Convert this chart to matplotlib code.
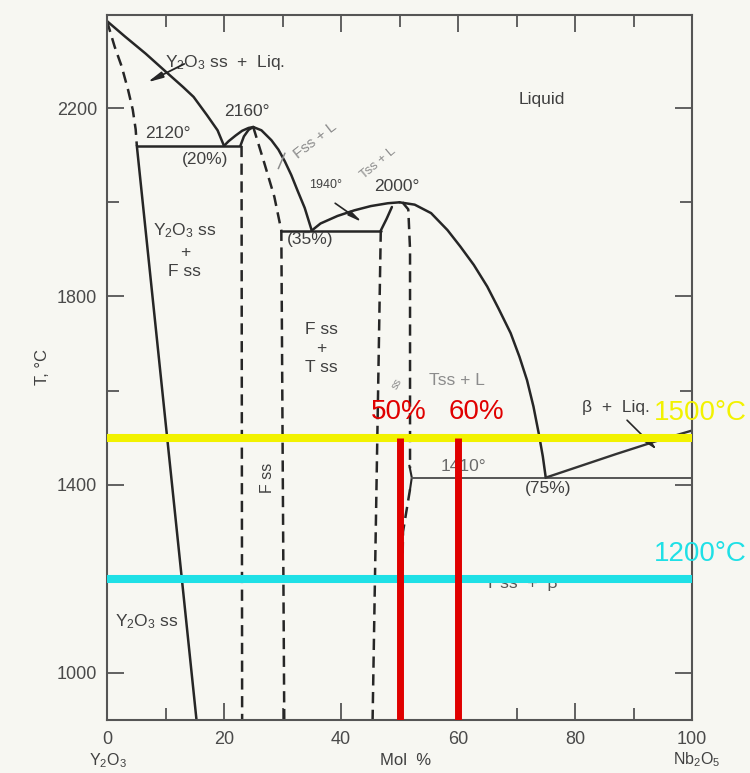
import matplotlib
matplotlib.use('Agg')
import matplotlib.pyplot as plt
from matplotlib.ticker import FixedLocator, FixedFormatter

plt.rcParams['font.family'] = ['Liberation Sans', 'DejaVu Sans']
plt.rcParams['mathtext.default'] = 'regular'

# ---------------- data (mol % Nb2O5, temperature in °C) ----------------
# Y2O3-rich liquidus
liq_y_x = [0, 3.1, 6.6, 10.1, 13.0, 14.8, 17.1, 18.9, 20]
liq_y_T = [2385, 2352, 2316, 2277, 2245, 2224, 2185, 2153, 2120]
# Y2O3 ss solidus (dashed)
sol_y_x = [0, 1.3, 2.5, 3.6, 4.4, 4.9, 5.1]
sol_y_T = [2385, 2331, 2289, 2239, 2197, 2155, 2120]
# Y2O3 ss solvus (solid)
solv_y_x = [5.1, 15.3]
solv_y_T = [2120, 900]
# eutectic 2120
eut1_x = [5.1, 22.8]
eut1_T = [2120, 2120]
# liquidus rising to F maximum
dome_f_x = [20, 20.8, 22, 23.1, 24.2, 25]
dome_f_T = [2120, 2130, 2142, 2152, 2158, 2160]
# F solidus left (solid)
fsol_l_x = [22.8, 23.4, 24.2, 25]
fsol_l_T = [2120, 2140, 2154, 2160]
# F liquidus falling to 35 % eutectic
fliq_x = [25, 26.4, 28.1, 29.3, 30.4, 31.5, 32.6, 33.8, 35]
fliq_T = [2160, 2153, 2132, 2112, 2087, 2058, 2024, 1988, 1940]
# F ss left boundary (dashed)
fbl_x = [23, 23.1]
fbl_T = [2120, 900]
# F ss right boundary (dashed)
fbr_x = [25, 26.9, 28.6, 29.8, 30.3]
fbr_T = [2160, 2083, 2012, 1940, 900]
# eutectic 1940
eut2_x = [29.8, 46.8]
eut2_T = [1940, 1940]
# liquidus rising to T maximum
tliq_up_x = [35, 36.5, 39.4, 42.3, 45.1, 48, 50]
tliq_up_T = [1940, 1955, 1971, 1983, 1992, 1998, 2000]
# liquidus falling to 75 % eutectic
tliq_dn_x = [50, 52.6, 55.4, 58.2, 60.4, 62.7, 65, 66.9, 69, 70.5, 71.8, 72.9, 73.8, 74.5, 75]
tliq_dn_T = [2000, 1995, 1977, 1941, 1906, 1867, 1821, 1775, 1722, 1672, 1622, 1566, 1509,
             1460, 1415]
# T ss solidus left (solid)
tsol_l_x = [46.8, 47.8, 48.7]
tsol_l_T = [1940, 1965, 1990]
# T ss left boundary (dashed)
tbl_x = [46.8, 45.4]
tbl_T = [1940, 900]
# T ss right boundary
tbr_up_x = [50.5, 51.5, 51.8, 51.8]
tbr_up_T = [2000, 1985, 1900, 1435]
tbr_mid_x = [51.7, 52.1, 51.8]
tbr_mid_T = [1440, 1415, 1390]
tbr_lo_x = [51.8, 50.6, 50.1]
tbr_lo_T = [1390, 1300, 900]
# eutectic 1410
eut3_x = [52.2, 100]
eut3_T = [1415, 1415]
# beta liquidus
bliq_x = [75, 87, 94.5, 100]
bliq_T = [1415, 1465, 1495, 1515]

# highlighted isotherms and compositions
iso_T = [1500, 1200]
iso_labels = ['1500°C', '1200°C']
iso_colors = ['#f2f200', '#1fe0e6']
comp_x = [50, 60]
comp_labels = ['50%', '60%']

x_major = [0, 20, 40, 60, 80, 100]
x_minor = [10, 30, 50, 70, 90]
y_major = [1000, 1400, 1800, 2200]
y_minor = [1200, 1600, 2000]

# ---------------- figure ----------------
bg = '#f7f7f2'
fig = plt.figure(figsize=(7.5, 7.73), dpi=100, facecolor=bg)
ax = fig.add_axes([107 / 750, 1 - 720 / 773, 585 / 750, 705 / 773])
ax.set_facecolor(bg)
ax.set_xlim(0, 100)
ax.set_ylim(900, 2398)

ink = '#262626'
solid = dict(color=ink, lw=1.8, solid_capstyle='round', solid_joinstyle='round')
dashed = dict(color=ink, lw=1.8, linestyle=(0, (4.5, 2.6)))
thin = dict(color='#555555', lw=1.4)

ax.plot(liq_y_x, liq_y_T, **solid)
ax.plot(sol_y_x, sol_y_T, **dashed)
ax.plot(solv_y_x, solv_y_T, **solid)
ax.plot(eut1_x, eut1_T, **solid)
ax.plot(dome_f_x, dome_f_T, **solid)
ax.plot(fsol_l_x, fsol_l_T, **solid)
ax.plot(fliq_x, fliq_T, **solid)
ax.plot(fbl_x, fbl_T, **dashed)
ax.plot(fbr_x, fbr_T, **dashed)
ax.plot(eut2_x, eut2_T, **solid)
ax.plot(tliq_up_x, tliq_up_T, **solid)
ax.plot(tliq_dn_x, tliq_dn_T, **solid)
ax.plot(tsol_l_x, tsol_l_T, **solid)
ax.plot(tbl_x, tbl_T, **dashed)
ax.plot(tbr_up_x, tbr_up_T, **dashed)
ax.plot(tbr_mid_x, tbr_mid_T, color=ink, lw=1.5)
ax.plot(tbr_lo_x, tbr_lo_T, **dashed)
ax.plot(eut3_x, eut3_T, **thin)
ax.plot(bliq_x, bliq_T, color='#333333', lw=1.7)

# ---------------- labels ----------------
tc = '#404040'
gc = '#8c8c8c'
fs = 12.5
ax.text(9.9, 2298, 'Y$_2$O$_3$ ss  +  Liq.', fontsize=fs, color=tc, ha='left', va='center')
ax.annotate('', xy=(6.9, 2255), xytext=(13.2, 2294),
            arrowprops=dict(arrowstyle='-|>,head_length=0.9,head_width=0.18',
                            color=ink, lw=1.3, shrinkA=0, shrinkB=0))
ax.text(23.9, 2192, '2160°', fontsize=fs, color=tc, ha='center', va='center')
ax.text(10.4, 2147, '2120°', fontsize=fs, color=tc, ha='center', va='center')
ax.text(16.8, 2090, '(20%)', fontsize=fs, color=tc, ha='center', va='center')
ax.text(35.6, 2132, 'Fss + L', fontsize=11, color=gc, ha='center', va='center', rotation=38)
ax.plot([30.4, 29.3], [2104, 2072], color=gc, lw=1.1)
ax.text(37.3, 2037, '1940°', fontsize=9, color=tc, ha='center', va='center')
ax.annotate('', xy=(43.6, 1958), xytext=(39.0, 1998),
            arrowprops=dict(arrowstyle='-|>,head_length=0.8,head_width=0.15',
                            color=ink, lw=1.2, shrinkA=0, shrinkB=0))
ax.text(46.4, 2083, 'Tss + L', fontsize=9.5, color=gc, ha='center', va='center', rotation=40)
ax.text(49.6, 2034, '2000°', fontsize=fs, color=tc, ha='center', va='center')
ax.text(34.7, 1920, '(35%)', fontsize=fs, color=tc, ha='center', va='center')
ax.text(74.4, 2219, 'Liquid', fontsize=fs, color=tc, ha='center', va='center')
ax.text(13.3, 1898, 'Y$_2$O$_3$ ss\n+\nF ss', fontsize=fs, color=tc, ha='center', va='center',
        linespacing=1.35, multialignment='center')
ax.text(36.6, 1690, 'F ss\n+\nT ss', fontsize=fs, color=tc, ha='center', va='center',
        linespacing=1.35, multialignment='center')
ax.text(27.5, 1414, 'F ss', fontsize=11.5, color=tc, ha='center', va='center', rotation=90)
ax.text(59.8, 1622, 'Tss + L', fontsize=fs, color=gc, ha='center', va='center')
ax.text(49.6, 1614, 'ss', fontsize=8, color=gc, ha='center', va='center', rotation=60)
ax.text(81.2, 1565, 'β  +  Liq.', fontsize=fs, color=tc, ha='left', va='center')
ax.annotate('', xy=(94.0, 1474), xytext=(88.9, 1537),
            arrowprops=dict(arrowstyle='-|>,head_length=0.9,head_width=0.2',
                            color=ink, lw=1.2, shrinkA=0, shrinkB=0))
ax.text(61.0, 1438, '1410°', fontsize=fs, color='#6a6a6a', ha='center', va='center')
ax.text(75.4, 1391, '(75%)', fontsize=fs, color=tc, ha='center', va='center')
ax.text(70.8, 1191, 'T ss  +  β', fontsize=fs, color='#555555', ha='center', va='center', zorder=1)
ax.text(6.8, 1108, 'Y$_2$O$_3$ ss', fontsize=fs, color=tc, ha='center', va='center')

# ---------------- highlights ----------------
for T, lab, c in zip(iso_T, iso_labels, iso_colors):
    ax.axhline(T, color=c, lw=5.8, zorder=4, solid_capstyle='butt')
    ax.text(101.4, T + 52, lab, fontsize=20, color=c, ha='center', va='center',
            zorder=6, clip_on=False)
for xv, lab in zip(comp_x, comp_labels):
    ax.plot([xv, xv], [900, iso_T[0]], color='#e00000', lw=5, zorder=5,
            solid_capstyle='butt')
    ax.text(xv + (-0.1 if xv == 50 else 3.2), 1554, lab, fontsize=20, color='#e00000',
            ha='center', va='center', zorder=6)

# ---------------- axes ----------------
for s in ax.spines.values():
    s.set_color('#555555')
    s.set_linewidth(1.5)
ax.xaxis.set_major_locator(FixedLocator(x_major))
ax.xaxis.set_minor_locator(FixedLocator(x_minor))
ax.yaxis.set_major_locator(FixedLocator(y_major))
ax.yaxis.set_minor_locator(FixedLocator(y_minor))
ax.xaxis.set_major_formatter(FixedFormatter([str(v) for v in x_major]))
ax.yaxis.set_major_formatter(FixedFormatter([str(v) for v in y_major]))
ax.tick_params(which='both', direction='in', top=True, right=True, colors='#555555',
               width=1.3, labelcolor='#4a4a4a', labelsize=13)
ax.tick_params(which='major', length=12)
ax.tick_params(which='minor', length=8.5)
ax.tick_params(axis='x', pad=8)
ax.tick_params(axis='y', pad=7)

ax.text(-11.1, 1650, 'T, °C', fontsize=12, color=tc, rotation=90, ha='center', va='center',
        clip_on=False)
ax.text(0.2, 813, 'Y$_2$O$_3$', fontsize=11.5, color=tc, ha='center', va='center', clip_on=False)
ax.text(51.1, 815, 'Mol  %', fontsize=12, color=tc, ha='center', va='center', clip_on=False)
ax.text(100.9, 815, 'Nb$_2$O$_5$', fontsize=11.5, color=tc, ha='center', va='center', clip_on=False)

fig.savefig('out.png', dpi=100, facecolor=bg)
